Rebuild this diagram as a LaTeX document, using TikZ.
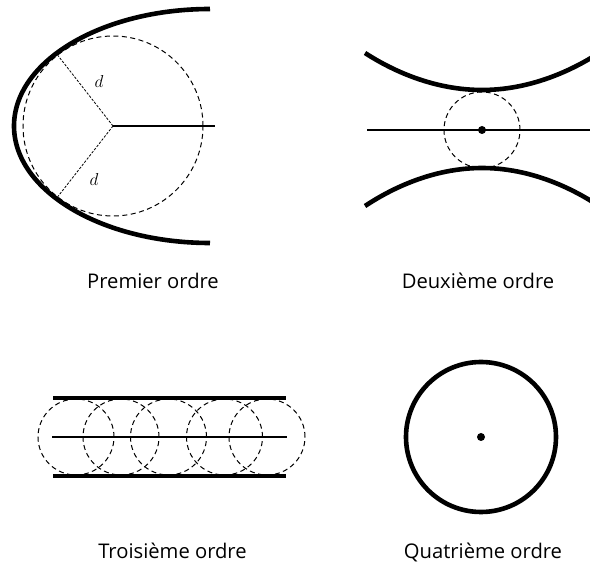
\documentclass[tikz,border=0pt]{standalone}
\usepackage{fontspec}
\setmainfont{Open Sans}
\usepackage{tikz}

\begin{document}
\begin{tikzpicture}[
  x=1pt, y=1pt,
  wall/.style={line width=4.6pt},
  axisline/.style={line width=1.8pt},
  dashcircle/.style={dash pattern=on 5pt off 3.5pt, line width=1pt},
  radiusline/.style={dash pattern=on 2.5pt off 1.5pt, line width=0.8pt},
  caption/.style={font=\fontsize{20.2}{24}\selectfont, anchor=base, inner sep=0pt},
  dlabel/.style={font=\fontsize{16}{18}\selectfont, inner sep=0pt}
]
\clip (0,0) rectangle (590,565);

% premier ordre
\coordinate (c1) at (113,439);
\draw[wall] (210,556) arc[start angle=90, end angle=270, x radius=196, y radius=117];
\draw[dashcircle] (c1) circle[radius=90];
\draw[axisline] (c1) -- (215,439);
\draw[radiusline] (c1) -- ++(128:90) coordinate (r1);
\draw[radiusline] (c1) -- ++(232:90) coordinate (r2);
\node[dlabel] (d1) at (99,483) {$d$};
\node[dlabel] (d2) at (94,385) {$d$};
\node[caption] (lab1) at (153,276) {Premier ordre};

% deuxieme ordre
\coordinate (c2) at (482,435);
\draw[wall] (365,512) parabola bend (482,475) (599,512);
\draw[wall] (365,359) parabola bend (482,397) (599,359);
\draw[dashcircle] (c2) circle[radius=38];
\draw[axisline] (367,435) -- (600,435);
\fill (c2) circle[radius=4];
\node[caption] (lab2) at (478,276) {Deuxième ordre};

% troisieme ordre
\draw[wall] (53,167) -- (286,167);
\draw[wall] (53,89) -- (286,89);
\draw[axisline] (52,128) -- (287,128);
\foreach \cx in {76,121,168.5,224.5,267}{
  \draw[dashcircle] (\cx,128) circle[radius=38];
}
\node[caption] (lab3) at (172.5,6) {Troisième ordre};

% quatrieme ordre
\coordinate (c4) at (481,128);
\draw[wall] (c4) circle[radius=75];
\fill (c4) circle[radius=4];
\node[caption] (lab4) at (483,6) {Quatrième ordre};
\end{tikzpicture}
\end{document}
